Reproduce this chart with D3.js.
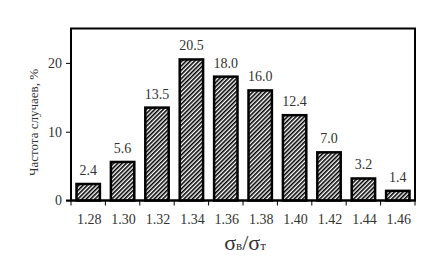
<!DOCTYPE html>
<html>
<head>
<meta charset="utf-8">
<script src="https://d3js.org/d3.v7.min.js"></script>
<style>
  body { margin: 0; background: #fff; }
  svg text { font-family: "Times New Roman", "Liberation Serif", Times, serif; fill: #333; }
</style>
</head>
<body>
<script>
var categories = ["1.28", "1.30", "1.32", "1.34", "1.36", "1.38", "1.40", "1.42", "1.44", "1.46"];
var values = [2.4, 5.6, 13.5, 20.5, 18.0, 16.0, 12.4, 7.0, 3.2, 1.4];
var yTicks = [0, 10, 20];

var W = 430, H = 278;
var m = {left: 71, top: 28.5, right: 15, bottom: 77.5};

var svg = d3.select("body").append("svg")
    .attr("width", W).attr("height", H);

var defs = svg.append("defs");
var pat = defs.append("pattern")
    .attr("id", "hatch")
    .attr("patternUnits", "userSpaceOnUse")
    .attr("width", 3).attr("height", 3)
    .attr("patternTransform", "rotate(45)");
pat.append("rect").attr("width", 3).attr("height", 3).attr("fill", "#fff");
pat.append("line")
    .attr("x1", 0.8).attr("y1", 0).attr("x2", 0.8).attr("y2", 3)
    .attr("stroke", "#000").attr("stroke-width", 1.6);

var x = d3.scaleBand().domain(categories)
    .range([m.left, W - m.right]).paddingInner(0.32).paddingOuter(0.16);
var y = d3.scaleLinear().domain([0, 25]).range([H - m.bottom, m.top]);

// frame
svg.append("rect")
    .attr("x", m.left).attr("y", m.top)
    .attr("width", W - m.right - m.left).attr("height", H - m.bottom - m.top)
    .attr("fill", "none").attr("stroke", "#000").attr("stroke-width", 2);

// bars
svg.selectAll("rect.bar").data(values).enter().append("rect")
    .attr("class", "bar")
    .attr("x", function(d, i) { return x(categories[i]); })
    .attr("y", function(d) { return y(d); })
    .attr("width", x.bandwidth())
    .attr("height", function(d) { return y(0) - y(d); })
    .attr("fill", "url(#hatch)")
    .attr("stroke", "#000").attr("stroke-width", 2.5);

// value labels
svg.selectAll("text.val").data(values).enter().append("text")
    .attr("class", "val")
    .attr("x", function(d, i) { return x(categories[i]) + x.bandwidth() / 2; })
    .attr("y", function(d) { return y(d) - 9; })
    .attr("text-anchor", "middle")
    .attr("font-size", 14)
    .text(function(d) { return d.toFixed(1); });

// y axis
var yAxis = d3.axisLeft(y).tickValues(yTicks).tickSize(5).tickPadding(4);
var gy = svg.append("g").attr("transform", "translate(" + m.left + ",0)").call(yAxis);
gy.select(".domain").remove();
gy.selectAll("line").attr("stroke", "#000").attr("stroke-width", 1);
gy.selectAll("text").attr("font-size", 14);

// x axis: ticks at category boundaries
var gx = svg.append("g").attr("transform", "translate(0," + y(0) + ")");
gx.append("line").attr("x1", m.left - 5).attr("x2", W - m.right)
    .attr("stroke", "#000").attr("stroke-width", 2);
var edges = d3.range(categories.length + 1).map(function(i) { return m.left + i * x.step(); });
gx.selectAll("line.tk").data(edges).enter().append("line")
    .attr("class", "tk")
    .attr("x1", function(d) { return d; }).attr("x2", function(d) { return d; })
    .attr("y1", 0).attr("y2", 5)
    .attr("stroke", "#000").attr("stroke-width", 1);
gx.selectAll("text").data(categories).enter().append("text")
    .attr("x", function(d) { return x(d) + x.bandwidth() / 2 + 1; })
    .attr("y", 23.5)
    .attr("text-anchor", "middle")
    .attr("font-size", 14)
    .text(function(d) { return d; });

// axis titles
svg.append("text")
    .attr("transform", "translate(38," + (m.top + (H - m.bottom - m.top) / 2 + 8) + ") rotate(-90)")
    .attr("text-anchor", "middle")
    .attr("font-size", 13)
    .text("Частота случаев, %");

var xt = svg.append("text")
    .attr("x", 245).attr("y", 250)
    .attr("text-anchor", "middle")
    .attr("font-size", 22);
xt.append("tspan").text("σ");
xt.append("tspan").attr("font-size", 13).text("в");
xt.append("tspan").text("/σ");
xt.append("tspan").attr("font-size", 13).text("т");
</script>
</body>
</html>
